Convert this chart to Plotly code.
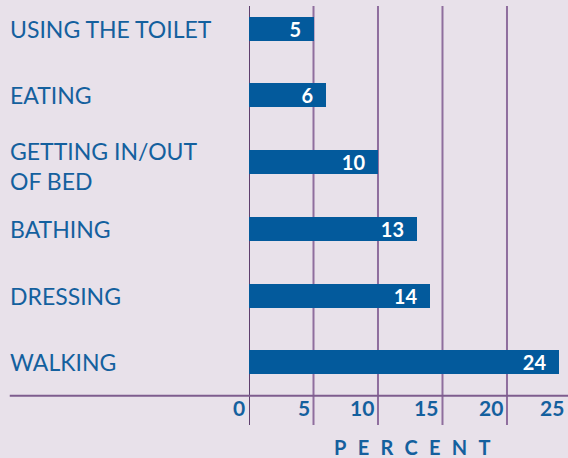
import plotly.graph_objects as go

categories = ['USING THE TOILET', 'EATING', 'GETTING IN/OUT<br>OF BED',
              'BATHING', 'DRESSING', 'WALKING']
percent = [5, 6, 10, 13, 14, 24]
tick_values = [0, 5, 10, 15, 20, 25]

BG = '#E8E1EA'
BAR = '#035A9C'
TEXT = '#14609E'
FONT = 'Lato'

fig = go.Figure()

fig.add_trace(go.Bar(
    x=percent,
    y=categories,
    orientation='h',
    width=0.36,
    marker=dict(color=BAR, line=dict(width=0)),
    text=[f'{v}\u2002' for v in percent],
    textposition='inside',
    insidetextanchor='end',
    textangle=0,
    constraintext='none',
    textfont=dict(family=FONT, size=20, color='white', weight='bold'),
    cliponaxis=False,
    showlegend=False,
))

# gridlines (first one darker)
for v in tick_values:
    fig.add_shape(type='line', xref='x', yref='paper', x0=v, x1=v, y0=0, y1=1,
                  line=dict(color='#5E3F6E' if v == 0 else '#8F6E9E', width=2),
                  layer='below')

# baseline across the full width
fig.add_shape(type='line', xref='paper', yref='y', x0=-0.75, x1=1.05,
              y0=5.5, y1=5.5, line=dict(color='#7E5C8E', width=2))

# category labels, left aligned
for cat in categories:
    fig.add_annotation(x=-0.749, xref='paper', y=cat, yref='y', xshift=-2,
                       text=cat, showarrow=False, xanchor='left', align='left',
                       yshift=-4 if '<br>' in cat else 0,
                       font=dict(family=FONT, size=23, color=TEXT))

# tick labels sit left of each gridline (25 falls just past the right edge)
for v in tick_values:
    if v < 25:
        pos = dict(x=v, xref='x', xshift=-2)
    else:
        pos = dict(x=1, xref='paper', xshift=-2)
    fig.add_annotation(**pos, y=0, yref='paper', yanchor='bottom',
                       text=str(v), showarrow=False, xanchor='right', yshift=3,
                       font=dict(family=FONT, size=21, color=TEXT, weight='bold'))

fig.add_annotation(x=0.51, xref='paper', y=-0.053, yref='paper',
                   text='P\u2002\u200aE\u2002\u200aR\u2002\u200aC\u2002\u200aE\u2002\u200aN\u2002\u200aT',
                   showarrow=False, xanchor='center', yanchor='middle',
                   font=dict(family=FONT, size=20, color=TEXT, weight='bold'))

fig.update_xaxes(range=[0, 24.73], showgrid=False, zeroline=False,
                 showticklabels=False, showline=False, ticks='')
fig.update_yaxes(type='category', categoryorder='array', categoryarray=categories,
                 range=[5.94, -0.34], showgrid=False, zeroline=False,
                 showticklabels=False, ticks='')

fig.update_layout(
    width=568, height=458,
    margin=dict(l=249, r=0, t=6, b=33),
    paper_bgcolor=BG, plot_bgcolor=BG,
    uniformtext=dict(minsize=20, mode='show'),
    bargap=0,
)

fig.write_html('out.html', config={'displayModeBar': False},
               post_script="document.body.style.margin='0';")
